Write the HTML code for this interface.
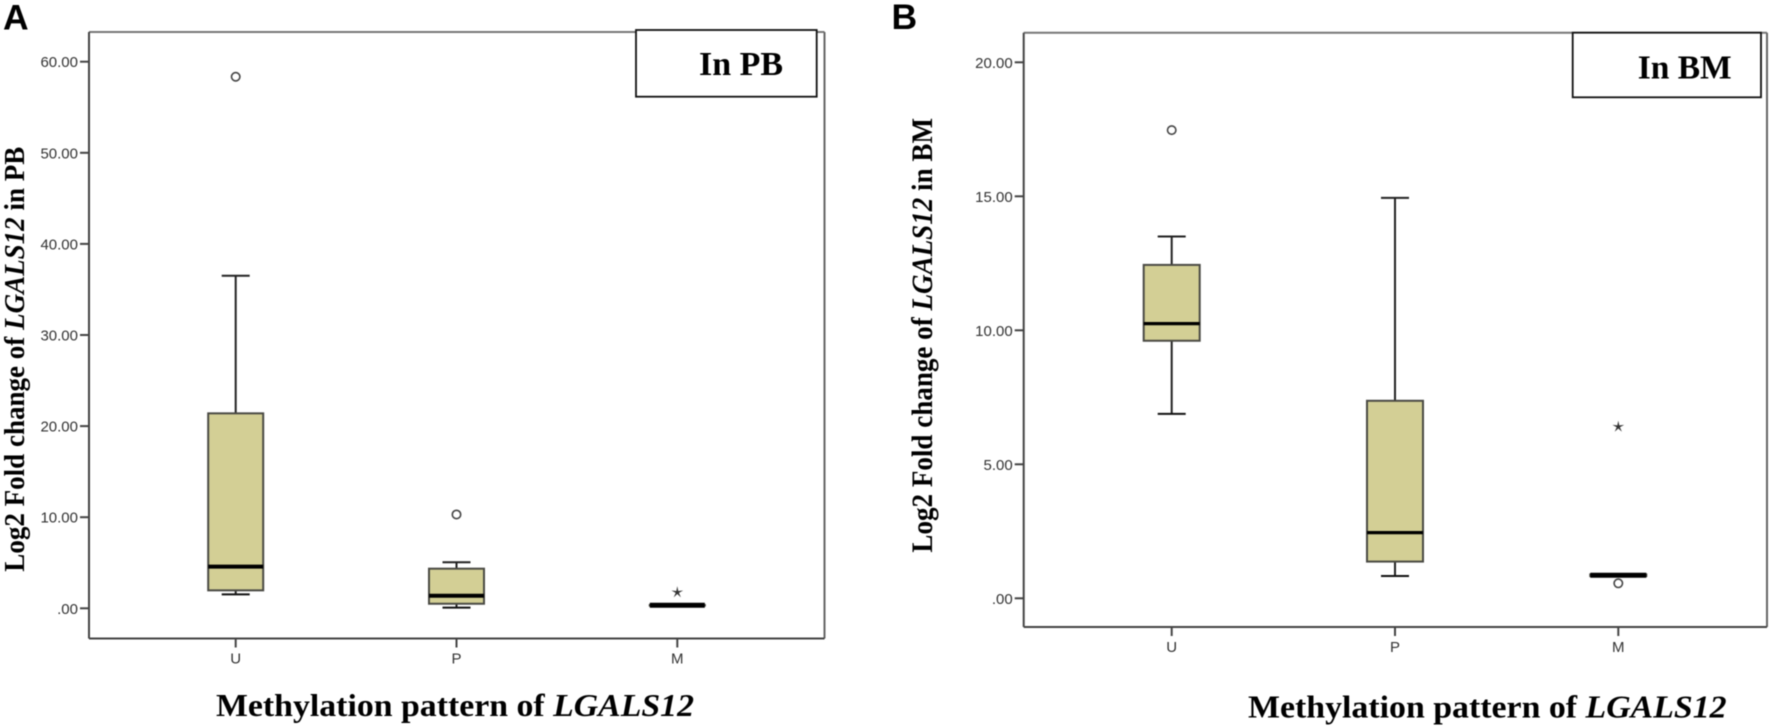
<!DOCTYPE html>
<html lang="en">
<head>
<meta charset="utf-8">
<title>LGALS12 methylation pattern box plots</title>
<style>
html,body{margin:0;padding:0;background:#fff;width:1772px;height:728px;overflow:hidden}
svg{display:block;filter:blur(.45px)}
.tick{font-family:"Liberation Sans",sans-serif;font-size:15px;fill:#333}
.title{font-family:"Liberation Serif",serif;font-weight:bold;fill:#000}
.letter{font-family:"Liberation Sans",sans-serif;font-weight:bold;font-size:35.500px;fill:#000}
</style>
</head>
<body>
<svg id="figure" xmlns="http://www.w3.org/2000/svg" width="1772" height="728" viewBox="0 0 1772 728">
  <g id="panel-a"></g>
  <g id="panel-b"></g>

  <text class="letter" x="3" y="29.300">A</text>
  <text class="letter" x="891.500" y="29">B</text>

  <rect x="636" y="30" width="180.700" height="66.700" fill="#fff" stroke="#111" stroke-width="1.800"/>
  <text class="title" x="699" y="75" font-size="34" textLength="84" lengthAdjust="spacingAndGlyphs">In PB</text>
  <rect x="1572.700" y="32.700" width="188.300" height="64.600" fill="#fff" stroke="#111" stroke-width="1.800"/>
  <text class="title" x="1637.700" y="78.300" font-size="34" textLength="94" lengthAdjust="spacingAndGlyphs">In BM</text>

  <text class="title" transform="translate(24,571.700) rotate(-90)" font-size="29" textLength="425" lengthAdjust="spacingAndGlyphs">Log2 Fold change of <tspan font-style="italic">LGALS12</tspan> in PB</text>
  <text class="title" transform="translate(932,552.600) rotate(-90)" font-size="29.500" textLength="434.600" lengthAdjust="spacingAndGlyphs">Log2 Fold change of <tspan font-style="italic">LGALS12</tspan> in BM</text>
  <text class="title" x="216" y="716" font-size="32" textLength="478" lengthAdjust="spacingAndGlyphs">Methylation pattern of <tspan font-style="italic">LGALS12</tspan></text>
  <text class="title" x="1248" y="717.700" font-size="32" textLength="478.600" lengthAdjust="spacingAndGlyphs">Methylation pattern of <tspan font-style="italic">LGALS12</tspan></text>
</svg>

<script>
const categories = ['U', 'P', 'M'];

const pbTickValues = [0, 10, 20, 30, 40, 50, 60];
const pbTickLabels = ['.00', '10.00', '20.00', '30.00', '40.00', '50.00', '60.00'];
const pbWhiskerHigh = [36.5, 5.05, 0.36];
const pbQ3 = [21.4, 4.35, 0.36];
const pbMedian = [4.57, 1.38, 0.33];
const pbQ1 = [1.97, 0.5, 0.3];
const pbWhiskerLow = [1.53, 0.07, 0.3];
const pbCircles = [58.35, 10.3, null];
const pbStars = [null, null, 1.75];

const bmTickValues = [0, 5, 10, 15, 20];
const bmTickLabels = ['.00', '5.00', '10.00', '15.00', '20.00'];
const bmWhiskerHigh = [13.5, 14.94, 0.9];
const bmQ3 = [12.44, 7.37, 0.89];
const bmMedian = [10.25, 2.45, 0.86];
const bmQ1 = [9.61, 1.37, 0.83];
const bmWhiskerLow = [6.88, 0.83, 0.83];
const bmCircles = [17.47, null, 0.56];
const bmStars = [null, null, 6.4];

const SVG_NS = 'http://www.w3.org/2000/svg';

function make(parent, tag, name, attrs) {
  const el = document.createElementNS(SVG_NS, tag);
  
  
  for (const key in attrs) el.setAttribute(key, attrs[key]);
  parent.appendChild(el);
  return el;
}

function drawPanel(p) {
  const root = document.getElementById(p.id);
  const yScale = v => p.zeroY - v * p.unit;
  const xScale = i => p.firstX + i * p.stepX;

  make(root, 'line', 'plot-top-border', {x1: p.left, x2: p.right, y1: p.top, y2: p.top, stroke: '#777', 'stroke-width': 2});
  make(root, 'line', 'plot-right-border', {x1: p.right, x2: p.right, y1: p.top, y2: p.bottom, stroke: '#666', 'stroke-width': 2});
  make(root, 'line', 'y-axis-line', {x1: p.left, x2: p.left, y1: p.top, y2: p.bottom, stroke: '#444', 'stroke-width': 2});
  make(root, 'line', 'x-axis-line', {x1: p.left, x2: p.right, y1: p.bottom, y2: p.bottom, stroke: '#444', 'stroke-width': 2});

  p.ticks.forEach((v, i) => {
    const y = yScale(v);
    make(root, 'line', 'y-tick', {x1: p.left - 9, x2: p.left, y1: y, y2: y, stroke: '#444', 'stroke-width': 2});
    const label = make(root, 'text', 'y-tick-label', {x: p.left - 11, y: y + 5.500, 'text-anchor': 'end', class: 'tick'});
    label.textContent = p.tickLabels[i];
  });

  categories.forEach((c, i) => {
    const x = xScale(i);
    make(root, 'line', 'x-tick', {x1: x, x2: x, y1: p.bottom, y2: p.bottom + 9, stroke: '#444', 'stroke-width': 2});
    const label = make(root, 'text', 'x-tick-label', {x: x, y: p.bottom + 25, 'text-anchor': 'middle', class: 'tick'});
    label.textContent = c;

    const group = make(root, 'g', 'boxplot-' + c, {});
    const half = p.boxW / 2, cap = 14;
    const boxTop = yScale(p.q3[i]);
    const boxBottom = yScale(p.q1[i]);
    make(group, 'line', 'whisker-stem', {x1: x, x2: x, y1: yScale(p.high[i]), y2: yScale(p.low[i]), stroke: '#222', 'stroke-width': 2});
    make(group, 'line', 'whisker-cap-high', {x1: x - cap, x2: x + cap, y1: yScale(p.high[i]), y2: yScale(p.high[i]), stroke: '#222', 'stroke-width': 2});
    make(group, 'line', 'whisker-cap-low', {x1: x - cap, x2: x + cap, y1: yScale(p.low[i]), y2: yScale(p.low[i]), stroke: '#111', 'stroke-width': 2});
    make(group, 'rect', 'box', {x: x - half, width: p.boxW, y: boxTop, height: Math.max(0, boxBottom - boxTop), fill: '#d3cf95', stroke: '#4a4a44', 'stroke-width': 2});
    const medianWidth = boxBottom - boxTop < 3 ? 5 : p.medianWidth;
    make(group, 'line', 'median-line', {x1: x - half, x2: x + half, y1: yScale(p.median[i]), y2: yScale(p.median[i]), stroke: '#000', 'stroke-width': medianWidth});

    if (p.circles[i] !== null) {
      make(group, 'circle', 'outlier-circle', {cx: x, cy: yScale(p.circles[i]), r: 4.200, fill: '#fff', stroke: '#444', 'stroke-width': 1.600});
    }
    if (p.stars[i] !== null) {
      const cy = yScale(p.stars[i]);
      const points = [];
      for (let k = 0; k < 10; k++) {
        const r = k % 2 ? 1.700 : 6.200;
        const a = -Math.PI / 2 + k * Math.PI / 5;
        points.push((x + r * Math.cos(a)).toFixed(2) + ',' + (cy + r * Math.sin(a)).toFixed(2));
      }
      make(group, 'polygon', 'extreme-star', {points: points.join(' '), fill: '#333'});
    }
  });
}

drawPanel({
  id: 'panel-a', left: 89, right: 824.500, top: 32, bottom: 638.500,
  zeroY: 608.300, unit: 9.110, firstX: 235.700, stepX: 220.800, boxW: 55, medianWidth: 4,
  ticks: pbTickValues, tickLabels: pbTickLabels,
  high: pbWhiskerHigh, q3: pbQ3, median: pbMedian, q1: pbQ1, low: pbWhiskerLow,
  circles: pbCircles, stars: pbStars
});

drawPanel({
  id: 'panel-b', left: 1023.700, right: 1767, top: 32.700, bottom: 627,
  zeroY: 598.300, unit: 26.800, firstX: 1171.700, stepX: 223.300, boxW: 56, medianWidth: 3.300,
  ticks: bmTickValues, tickLabels: bmTickLabels,
  high: bmWhiskerHigh, q3: bmQ3, median: bmMedian, q1: bmQ1, low: bmWhiskerLow,
  circles: bmCircles, stars: bmStars
});
</script>
</body>
</html>
